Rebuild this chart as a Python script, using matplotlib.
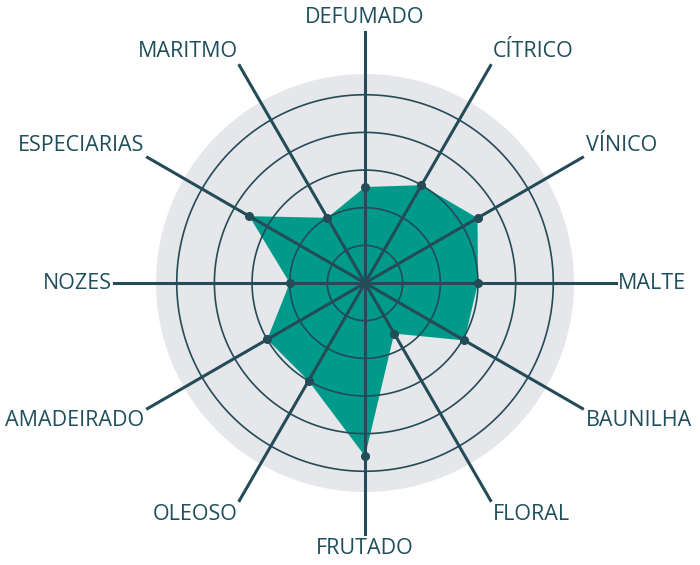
import numpy as np
import matplotlib.pyplot as plt

labels = ["DEFUMADO", "CÍTRICO", "VÍNICO", "MALTE", "BAUNILHA", "FLORAL",
          "FRUTADO", "OLEOSO", "AMADEIRADO", "NOZES", "ESPECIARIAS", "MARITMO"]
values = [2.55, 3.0, 3.45, 3.0, 3.05, 1.55, 4.6, 3.0, 3.0, 2.0, 3.55, 2.0]
rings = [1, 2, 3, 4, 5]

line_col = '#244b58'
text_col = '#1f4e5c'
fill_col = '#009a8b'
disk_col = '#e6e7ea'

plt.rcParams['font.family'] = ['Open Sans', 'DejaVu Sans']

fig = plt.figure(figsize=(7, 5.65), dpi=100)
ax = fig.add_axes([0.2229, 0.1292, 0.5971, 0.7398], projection='polar')
ax.set_theta_zero_location('N')
ax.set_theta_direction(-1)
ax.set_facecolor(disk_col)
ax.spines['polar'].set_visible(False)
ax.grid(False)
ax.set_xticks([])
ax.set_yticks([])
ax.set_ylim(0, 5.55)

n = len(labels)
angles = np.arange(n) * 2 * np.pi / n

# rings
tt = np.linspace(0, 2 * np.pi, 400)
for r in rings:
    ax.plot(tt, np.full_like(tt, r), color=line_col, lw=1.2, zorder=3)

# filled shape
ang_c = np.append(angles, angles[0])
val_c = np.append(values, values[0])
ax.fill(ang_c, val_c, color=fill_col, lw=0, zorder=2)

# spokes
spoke_len = 6.67
for a in angles:
    ax.plot([a, a], [0, spoke_len], color=line_col, lw=2.2, zorder=4, clip_on=False)

ax.plot(angles, values, 'o', color=line_col, ms=5.5, zorder=5)

# labels
for a, lab in zip(angles, labels):
    deg = np.degrees(a) % 360
    s, c = np.sin(a), np.cos(a)
    if deg < 1 or deg > 359:
        ha, va = 'center', 'bottom'
    elif abs(deg - 180) < 1:
        ha, va = 'center', 'top'
    else:
        ha = 'left' if s > 0 else 'right'
        if abs(c) < 0.01:
            va = 'center'
        else:
            va = 'bottom' if c > 0 else 'top'
    r_lab = spoke_len + (0.1 if va != 'center' else 0.05)
    ax.text(a, r_lab, lab, ha=ha, va=va, fontsize=15.5, color=text_col,
            clip_on=False)

fig.savefig("out.png", dpi=100)
